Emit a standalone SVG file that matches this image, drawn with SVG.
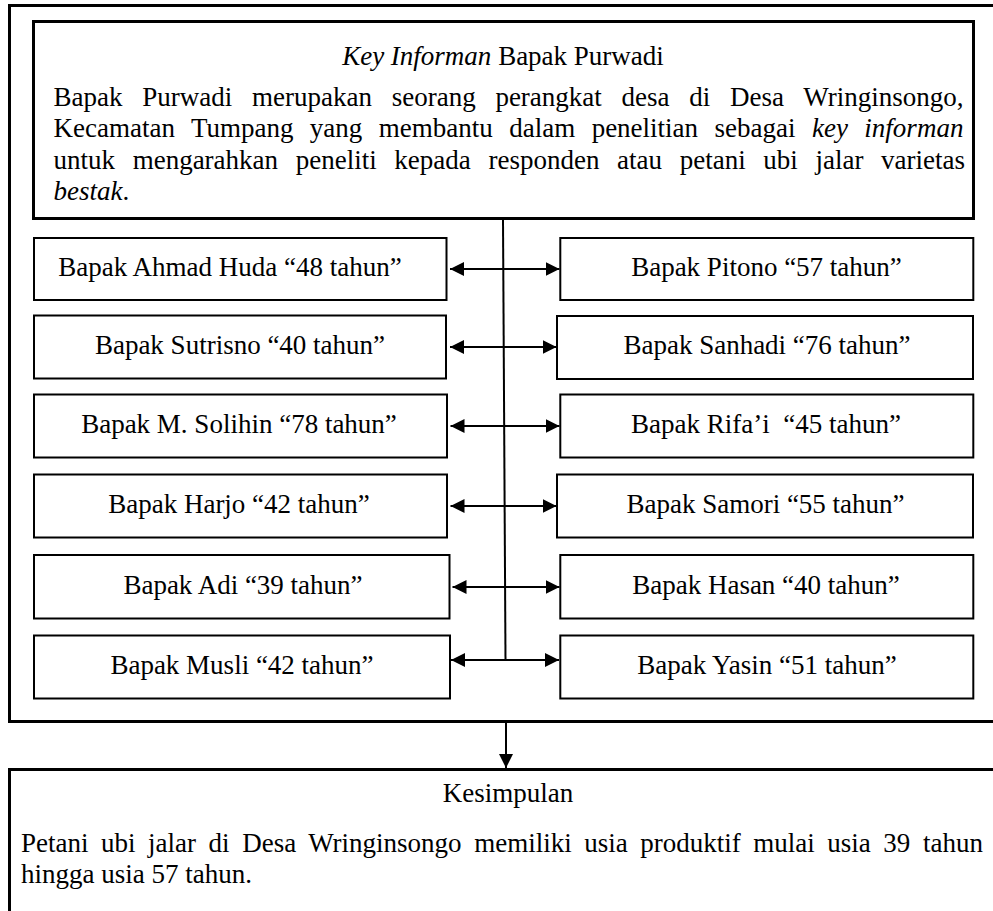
<svg xmlns="http://www.w3.org/2000/svg" width="993" height="911" viewBox="0 0 993 911">
  <style>
    text { font-family: "Liberation Serif", "Times New Roman", serif; font-size: 27px; fill: #000; }
    .c { text-anchor: middle; }
    .i { font-style: italic; }
    .frame { fill: none; stroke: #000; stroke-width: 3; }
    .node rect { fill: #fff; stroke: #000; stroke-width: 2; }
    .link { stroke: #000; stroke-width: 2; fill: none; }
  </style>
  <defs>
    <marker id="ah" viewBox="0 0 14 14" refX="14" refY="7" markerWidth="14" markerHeight="14" markerUnits="userSpaceOnUse" orient="auto-start-reverse">
      <path d="M0,0 L14,7 L0,14 z" fill="#000"/>
    </marker>
  </defs>
  <rect width="993" height="911" fill="#fff"/>

  <!-- outer frame around informant section -->
  <rect id="frame-informan" class="frame" x="9.5" y="5.5" width="1000" height="716"/>

  <!-- key informant header -->
  <g id="key-informan">
    <rect class="frame" x="33.5" y="21.5" width="940" height="197"/>
    <text class="c" x="503" y="65"><tspan class="i">Key Informan</tspan> Bapak Purwadi</text>
    <text x="53.5" y="105.5" style="word-spacing:13px">Bapak Purwadi merupakan seorang perangkat desa di Desa Wringinsongo,</text>
    <text x="53.5" y="137" style="word-spacing:9.7px">Kecamatan Tumpang yang membantu dalam penelitian sebagai <tspan class="i">key informan</tspan></text>
    <text x="53.5" y="168.5" style="word-spacing:10.9px">untuk mengarahkan peneliti kepada responden atau petani ubi jalar varietas</text>
    <text x="53.5" y="200"><tspan class="i">bestak</tspan>.</text>
  </g>

  <!-- connectors -->
  <g id="connectors">
    <line class="link" x1="503" y1="220" x2="505.5" y2="660"/>
    <line class="link" x1="450" y1="269" x2="559.5" y2="269" marker-start="url(#ah)" marker-end="url(#ah)"/>
    <line class="link" x1="450" y1="347" x2="556.5" y2="347" marker-start="url(#ah)" marker-end="url(#ah)"/>
    <line class="link" x1="450.5" y1="426" x2="559.5" y2="426" marker-start="url(#ah)" marker-end="url(#ah)"/>
    <line class="link" x1="450.5" y1="506" x2="556.5" y2="506" marker-start="url(#ah)" marker-end="url(#ah)"/>
    <line class="link" x1="452.5" y1="587" x2="559.5" y2="587" marker-start="url(#ah)" marker-end="url(#ah)"/>
    <line class="link" x1="451" y1="660" x2="559" y2="660" marker-start="url(#ah)" marker-end="url(#ah)"/>
    <line class="link" x1="506" y1="723" x2="506" y2="768" marker-end="url(#ah)"/>
  </g>

  <!-- respondents, left column -->
  <g id="n-ahmad-huda" class="node">
    <rect x="34" y="238" width="412.5" height="62"/>
    <text class="c" x="230" y="276">Bapak Ahmad Huda “48 tahun”</text>
  </g>
  <g id="n-sutrisno" class="node">
    <rect x="34" y="315.5" width="412" height="63"/>
    <text class="c" x="240" y="353.5">Bapak Sutrisno “40 tahun”</text>
  </g>
  <g id="n-solihin" class="node">
    <rect x="34" y="394.5" width="413" height="63"/>
    <text class="c" x="239" y="433">Bapak M. Solihin “78 tahun”</text>
  </g>
  <g id="n-harjo" class="node">
    <rect x="34" y="474.5" width="413" height="63"/>
    <text class="c" x="239" y="513">Bapak Harjo “42 tahun”</text>
  </g>
  <g id="n-adi" class="node">
    <rect x="34" y="555" width="415.5" height="63.5"/>
    <text class="c" x="243" y="593.5">Bapak Adi “39 tahun”</text>
  </g>
  <g id="n-musli" class="node">
    <rect x="34" y="635.5" width="416" height="63"/>
    <text class="c" x="242" y="673.5">Bapak Musli “42 tahun”</text>
  </g>

  <!-- respondents, right column -->
  <g id="n-pitono" class="node">
    <rect x="560.3" y="238" width="413" height="62"/>
    <text class="c" x="766.5" y="276">Bapak Pitono “57 tahun”</text>
  </g>
  <g id="n-sanhadi" class="node">
    <rect x="557" y="316" width="416" height="63"/>
    <text class="c" x="767" y="353.5">Bapak Sanhadi “76 tahun”</text>
  </g>
  <g id="n-rifai" class="node">
    <rect x="560.3" y="394.5" width="413" height="63"/>
    <text class="c" x="766" y="433">Bapak Rifa’i&#160; “45 tahun”</text>
  </g>
  <g id="n-samori" class="node">
    <rect x="557" y="474.5" width="416" height="63"/>
    <text class="c" x="765.5" y="513">Bapak Samori “55 tahun”</text>
  </g>
  <g id="n-hasan" class="node">
    <rect x="560.3" y="555" width="413" height="63.5"/>
    <text class="c" x="766" y="593.5">Bapak Hasan “40 tahun”</text>
  </g>
  <g id="n-yasin" class="node">
    <rect x="560.3" y="635.5" width="413" height="63"/>
    <text class="c" x="767" y="673.5">Bapak Yasin “51 tahun”</text>
  </g>

  <!-- conclusion -->
  <g id="kesimpulan">
    <rect class="frame" x="9.5" y="769.5" width="1000" height="200"/>
    <text class="c" x="508" y="802">Kesimpulan</text>
    <text x="21" y="852" style="word-spacing:5.8px">Petani ubi jalar di Desa Wringinsongo memiliki usia produktif mulai usia 39 tahun</text>
    <text x="21" y="882.5">hingga usia 57 tahun.</text>
  </g>
</svg>
